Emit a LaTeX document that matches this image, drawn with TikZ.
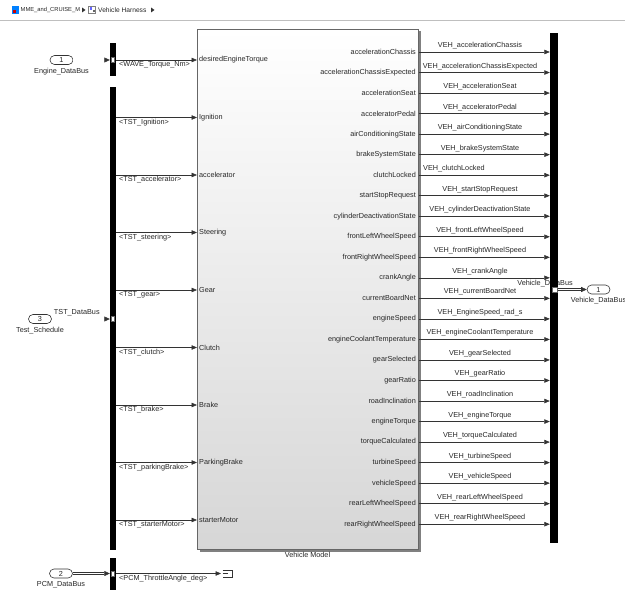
\documentclass[tikz,border=0pt]{standalone}
\usepackage{fontspec}
\setmainfont{Liberation Sans}
\usetikzlibrary{arrows.meta,positioning}

\begin{document}
\begin{tikzpicture}[x=1bp, y=-1bp,
    every node/.style={font=\fontsize{7.3}{8}\selectfont, text=black!85, inner sep=0pt},
    crumb/.style={font=\fontsize{6.7}{7}\selectfont, anchor=west},
    sig/.style={line width=0.6bp, black!80, -{Triangle[length=5.5bp,width=4.5bp]}},
    bus/.style={line width=0.55bp, black!80, double=white, double distance=1.3bp, -{Triangle[length=5.5bp,width=5bp]}},
    busbar/.style={fill=black, draw=none, minimum width=6bp},
    portmark/.style={fill=white, draw=black!60, line width=0.3bp, minimum width=3bp, minimum height=5bp},
    inport/.style={draw=black!80, line width=0.6bp, rounded corners=4.5bp, minimum width=23bp, minimum height=9bp}]

    \useasboundingbox (0,0) rectangle (625,593);

    % Draw the breadcrumb bar
    \fill[blue!50!cyan] (12,6) rectangle (19,14);
    \fill[red!80!black] (13,10) rectangle (16,13);
    \node[crumb, font=\fontsize{5.8}{7}\selectfont] (crumbA) at (20.5,10) {MME\_and\_CRUISE\_M};
    \fill[black!80] (82,7.5) -- (85.5,10) -- (82,12.5) -- cycle;
    \draw[black!50, fill=white, line width=0.4bp] (88.5,6.5) rectangle (95.5,13.5);
    \fill[blue!60] (89.5,7.5) rectangle (92,10);
    \fill[black!60] (92.5,10.5) rectangle (94.5,12.5);
    \node[crumb] (crumbB) at (98,10) {Vehicle Harness};
    \fill[black!80] (151,7.5) -- (154.5,10) -- (151,12.5) -- cycle;
    \draw[black!25] (0,20.5) -- (625,20.5);

    % Draw the shadow and the block
    \fill[black!50] (199.5,31.5) rectangle (420.5,551.5);
    \node[draw=black!60, line width=0.5bp, top color=white, bottom color=black!16,
          minimum width=221bp, minimum height=520bp] (vm) at (307.5,289) {};
    \node[below=2.5bp of vm] (vmlabel) {Vehicle Model};

    % Draw the inports
    \node[inport] (eng) at (61.5,60) {1};
    \node[below=3bp of eng] (engl) {Engine\_DataBus};
    \node[inport] (tst) at (40,319) {3};
    \node[below=3bp of tst] (tstl) {Test\_Schedule};
    \node[inport] (pcm) at (61,573.5) {2};
    \node[below=3bp of pcm] (pcml) {PCM\_DataBus};

    % Draw the bus selectors
    \node[busbar, minimum height=33bp] (sel1) at (113,59.5) {};
    \node[busbar, minimum height=463bp] (sel2) at (113,318.5) {};
    \node[busbar, minimum height=32bp] (sel3) at (113,574) {};

    % Draw the bus lines entering the selectors
    \draw[bus] (eng) -- (sel1.west |- eng);
    \draw[bus] (tst) -- node[above=3bp, xshift=-4bp] {TST\_DataBus} (sel2.west |- tst);
    \draw[bus] (pcm) -- (sel3.west |- pcm);
    \node[portmark] at (sel1.center |- eng) {};
    \node[portmark] at (sel2.center |- tst) {};
    \node[portmark] at (sel3.center |- pcm) {};

    % Draw the signals into the block
    \coordinate (pT) at (197,60);
    \draw[sig] (sel1.east |- pT) -- (pT);
    \node[anchor=north west] at (119,61.5) {<WAVE\_Torque\_Nm>};
    \node[anchor=west] at (199,60) {desiredEngineTorque};
    \foreach \y/\sg/\port [count=\i] in {117.5/TST\_Ignition/Ignition,
        175/TST\_accelerator/accelerator, 232.5/TST\_steering/Steering,
        290/TST\_gear/Gear, 347.5/TST\_clutch/Clutch, 405/TST\_brake/Brake,
        462.5/TST\_parkingBrake/ParkingBrake, 520/TST\_starterMotor/starterMotor}{
        \coordinate (p\i) at (197,\y);
        \draw[sig] (sel2.east |- p\i) -- (p\i);
        \node[anchor=north west] at (119,\y+1.5) {<\sg>};
        \node[anchor=west] at (199,\y) {\port};
    }

    % Draw the terminator
    \coordinate (term) at (221,573.5);
    \draw[sig] (sel3.east |- term) -- (term);
    \node[anchor=north west] at (119,575) {<PCM\_ThrottleAngle\_deg>};
    \draw[black!80, line width=0.6bp] (222.5,570) -- (232.5,570) -- (232.5,577) -- (222.5,577);
    \draw[black!80, line width=0.6bp] (222.5,573.5) -- (228,573.5);

    % Draw the bus creator and the outport
    \node[busbar, minimum width=8bp, minimum height=510bp] (rbus) at (554,288) {};
    \node[inport] (vout) at (598.5,289.5) {1};
    \node[below=3bp of vout] (voutl) {Vehicle\_DataBus};
    \node (vbl) at (545,284) {Vehicle\_DataBus};
    \fill[black] (550,279) rectangle (558,288);
    \draw[bus] (rbus.east |- vout) -- (vout);
    \node[portmark, minimum width=5bp] at (554.5,289.5) {};

    % Draw the signals out of the block
    \foreach \port/\sg [count=\i from 0] in {
        accelerationChassis/VEH\_accelerationChassis,
        accelerationChassisExpected/VEH\_accelerationChassisExpected,
        accelerationSeat/VEH\_accelerationSeat,
        acceleratorPedal/VEH\_acceleratorPedal,
        airConditioningState/VEH\_airConditioningState,
        brakeSystemState/VEH\_brakeSystemState,
        clutchLocked/VEH\_clutchLocked,
        startStopRequest/VEH\_startStopRequest,
        cylinderDeactivationState/VEH\_cylinderDeactivationState,
        frontLeftWheelSpeed/VEH\_frontLeftWheelSpeed,
        frontRightWheelSpeed/VEH\_frontRightWheelSpeed,
        crankAngle/VEH\_crankAngle,
        currentBoardNet/VEH\_currentBoardNet,
        engineSpeed/VEH\_EngineSpeed\_rad\_s,
        engineCoolantTemperature/VEH\_engineCoolantTemperature,
        gearSelected/VEH\_gearSelected,
        gearRatio/VEH\_gearRatio,
        roadInclination/VEH\_roadInclination,
        engineTorque/VEH\_engineTorque,
        torqueCalculated/VEH\_torqueCalculated,
        turbineSpeed/VEH\_turbineSpeed,
        vehicleSpeed/VEH\_vehicleSpeed,
        rearLeftWheelSpeed/VEH\_rearLeftWheelSpeed,
        rearRightWheelSpeed/VEH\_rearRightWheelSpeed}{
        \pgfmathsetmacro\y{52+20.53*\i}
        \coordinate (q\i) at (418.5,\y);
        \draw[sig] (q\i) -- (q\i -| rbus.west);
        \node[anchor=east] at (416,\y) {\port};
        \ifnum\i=6
            \node[anchor=base west] at (423,\y-4.5) {\sg};
        \else
            \node[anchor=base] at (480,\y-4.5) {\sg};
        \fi
    }
\end{tikzpicture}
\end{document}
